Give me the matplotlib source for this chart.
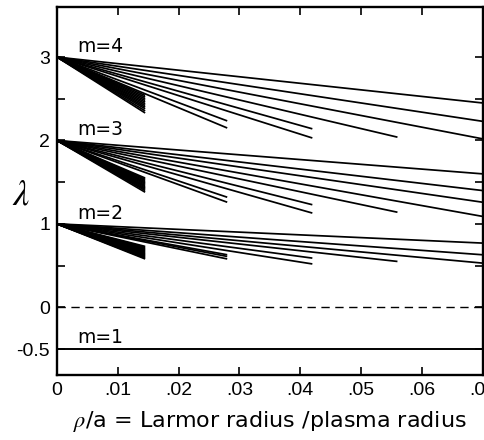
import numpy as np
import matplotlib
matplotlib.use('Agg')
import matplotlib.pyplot as plt

plt.rcParams['mathtext.fontset'] = 'stix'

# end points (rho/a, lambda) of each straight branch, per family; all start at lambda = m-1
m4_xend = [0.07, 0.07, 0.07, 0.056, 0.042, 0.042, 0.028, 0.028,
           0.0145, 0.0145, 0.0145, 0.0145, 0.0145, 0.0145, 0.0145, 0.0145, 0.0145, 0.0145, 0.0145]
m4_yend = [2.45, 2.23, 2.02, 2.04, 2.14, 2.03, 2.235, 2.15,
           2.54, 2.52, 2.50, 2.48, 2.46, 2.44, 2.42, 2.40, 2.38, 2.355, 2.33]

m3_xend = [0.07, 0.07, 0.07, 0.07, 0.056, 0.042, 0.042, 0.028, 0.028,
           0.0145, 0.0145, 0.0145, 0.0145, 0.0145, 0.0145, 0.0145, 0.0145, 0.0145, 0.0145, 0.0145, 0.0145]
m3_yend = [1.60, 1.40, 1.26, 1.09, 1.14, 1.23, 1.13, 1.32, 1.26,
           1.55, 1.535, 1.52, 1.505, 1.49, 1.475, 1.46, 1.445, 1.43, 1.415, 1.40, 1.38]

m2_xend = [0.07, 0.07, 0.07, 0.056, 0.042, 0.042, 0.028, 0.028, 0.028,
           0.0145, 0.0145, 0.0145, 0.0145, 0.0145, 0.0145, 0.0145, 0.0145,
           0.0145, 0.0145, 0.0145, 0.0145, 0.0145, 0.0145, 0.0145, 0.0145]
m2_yend = [0.77, 0.63, 0.53, 0.55, 0.59, 0.52, 0.63, 0.61, 0.58,
           0.73, 0.72, 0.71, 0.70, 0.69, 0.68, 0.67, 0.66,
           0.65, 0.64, 0.63, 0.62, 0.61, 0.60, 0.59, 0.58]

families = [(3.0, m4_xend, m4_yend, 'm=4'),
            (2.0, m3_xend, m3_yend, 'm=3'),
            (1.0, m2_xend, m2_yend, 'm=2')]
m1_level = -0.5

xticks = [0, 0.01, 0.02, 0.03, 0.04, 0.05, 0.06, 0.07]
xticklabels = ['0', '.01', '.02', '.03', '.04', '.05', '.06', '.07']
yticks = [3, 2, 1, 0, -0.5]
yticklabels = ['3', '2', '1', '0', '-0.5']
yminor = [2.5, 1.5, 0.5]

fig = plt.figure(figsize=(4.85, 4.4), dpi=100)
ax = fig.add_axes([0.1175, 0.148, 0.8775, 0.836])

for y0, xe, ye, lab in families:
    for a, b in zip(xe, ye):
        ax.plot([0, a], [y0, b], color='black', lw=1.25, solid_capstyle='butt')
    ax.text(0.0033, y0 + 0.13, lab, fontsize=13.5, va='center', ha='left')

ax.axhline(0, color='black', lw=1.0, dashes=(6, 4))
ax.axhline(m1_level, color='black', lw=1.4)
ax.text(0.0033, m1_level + 0.14, 'm=1', fontsize=13.5, va='center', ha='left')

ax.set_xlim(0, 0.07)
ax.set_ylim(-0.81, 3.6)
ax.set_xticks(xticks)
ax.set_xticklabels(xticklabels, fontsize=14, family='Liberation Sans')
ax.set_yticks(yticks)
ax.set_yticklabels(yticklabels, fontsize=14, family='Liberation Sans')
ax.set_yticks(yminor, minor=True)
ax.tick_params(axis='both', which='both', direction='in', top=True, right=True)
ax.tick_params(axis='both', which='major', length=6, width=1.2, pad=5)
ax.tick_params(axis='y', which='minor', length=6, width=1.2)
for s in ax.spines.values():
    s.set_linewidth(1.7)

ax.set_xlabel(r'$\rho$/a = Larmor radius /plasma radius', fontsize=16, labelpad=7)
ax.set_ylabel(r'$\lambda$', fontsize=26, rotation=0, va='center', ha='center')
ax.yaxis.set_label_coords(-0.085, 0.49)

fig.savefig('out.png', dpi=100)
